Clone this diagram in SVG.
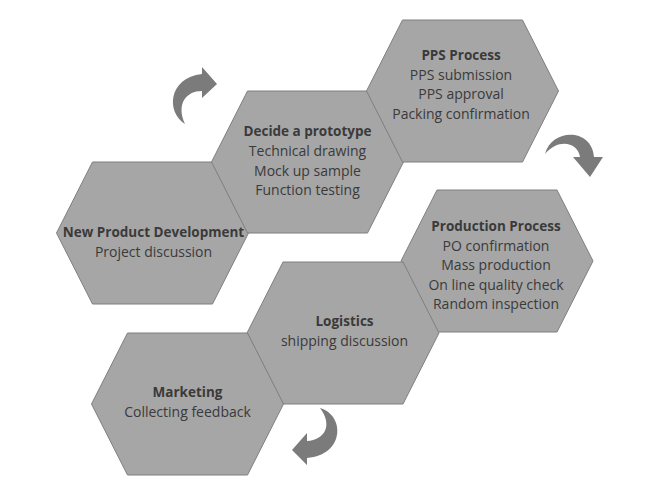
<svg xmlns="http://www.w3.org/2000/svg" xmlns:xlink="http://www.w3.org/1999/xlink" width="650" height="482" viewBox="0 0 650 482">
<style>
.hex{fill:#a6a6a6;stroke:#7f7f7f;stroke-width:1}
.t{font-family:"Open Sans","Noto Sans",sans-serif;font-size:14px;fill:#3a3a3a;text-anchor:middle}
.b{font-weight:bold;font-size:13.5px}
.arr{fill:#7b7b7b}
</style>
<defs>
<polygon id="hx" class="hex" points="-96,0 -60,-71 60,-71 96,0 60,71 -60,71"/>
</defs>
<rect width="650" height="482" fill="#ffffff"/>
<g id="node-npd">
<use xlink:href="#hx" href="#hx" transform="translate(152.5,233)"/>
<text class="t b" x="153.5" y="237">New Product Development</text>
<text class="t" x="153.5" y="256.5">Project discussion</text>
</g>
<g id="node-decide">
<use xlink:href="#hx" href="#hx" transform="translate(307.5,162)"/>
<text class="t b" x="307.5" y="136">Decide a prototype</text>
<text class="t" x="307.5" y="156">Technical drawing</text>
<text class="t" x="307.5" y="175.5">Mock up sample</text>
<text class="t" x="307.5" y="195">Function testing</text>
</g>
<g id="node-pps">
<use xlink:href="#hx" href="#hx" transform="translate(462.5,91)"/>
<text class="t b" x="461" y="60">PPS Process</text>
<text class="t" x="461" y="80">PPS submission</text>
<text class="t" x="461" y="99">PPS approval</text>
<text class="t" x="461" y="119">Packing confirmation</text>
</g>
<g id="node-production">
<use xlink:href="#hx" href="#hx" transform="translate(497,261)"/>
<text class="t b" x="496" y="231">Production Process</text>
<text class="t" x="496" y="250.5">PO confirmation</text>
<text class="t" x="496" y="270">Mass production</text>
<text class="t" x="496" y="289.5">On line quality check</text>
<text class="t" x="496" y="309">Random inspection</text>
</g>
<g id="node-logistics">
<use xlink:href="#hx" href="#hx" transform="translate(343,333)"/>
<text class="t b" x="344.5" y="326">Logistics</text>
<text class="t" x="344.5" y="345.5">shipping discussion</text>
</g>
<g id="node-marketing">
<use xlink:href="#hx" href="#hx" transform="translate(187.5,404)"/>
<text class="t b" x="187.5" y="397">Marketing</text>
<text class="t" x="187.5" y="416.5">Collecting feedback</text>
</g>
<g id="connectors">
<path class="arr" d="M185,124 C166,112 168,78 202,74 L202,67 L217,84 L202,98 L202,91 C186,91 176,104 185,124 Z"/>
<path class="arr" d="M545,154 C552,128 592,128 594,157 L603,157 L590,177 L573,157 L580,157 C578,142 558,138 545,154 Z"/>
<path class="arr" d="M320,408 C345,415 345,455 307,458 L307,465 L292,450 L307,433 L307,441 C325,440 333,425 320,408 Z"/>
</g>
</svg>
